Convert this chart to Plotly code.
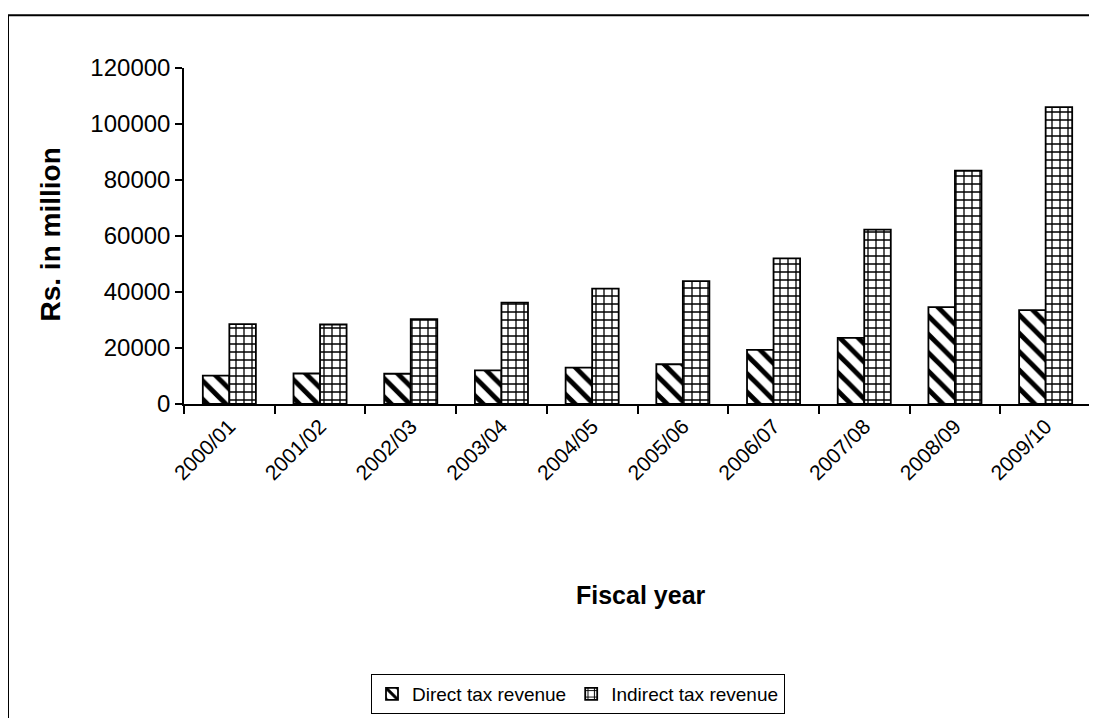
import plotly.graph_objects as go

years = ["2000/01", "2001/02", "2002/03", "2003/04", "2004/05",
         "2005/06", "2006/07", "2007/08", "2008/09", "2009/10"]
direct_tax = [10100, 10900, 10800, 12000, 13000, 14200, 19300, 23600, 34600, 33500]
indirect_tax = [28500, 28400, 30300, 36200, 41200, 43900, 52000, 62300, 83300, 106000]
y_ticks = [0, 20000, 40000, 60000, 80000, 100000, 120000]

FONT = "Liberation Sans, Arial, sans-serif"

fig = go.Figure()
fig.add_trace(go.Bar(
    x=years, y=direct_tax, name="Direct tax revenue",
    marker=dict(color="white", line=dict(color="black", width=1.8),
                pattern=dict(shape="\\", fgcolor="black", bgcolor="white",
                             fgopacity=1, size=13, solidity=0.38)),
))
fig.add_trace(go.Bar(
    x=years, y=indirect_tax, name="Indirect tax revenue",
    marker=dict(color="white", line=dict(color="black", width=1.8),
                pattern=dict(shape="+", fgcolor="black", bgcolor="white",
                             fgopacity=1, size=8, solidity=0.3)),
))

OFF = 8  # page body margin
W, H = 1097 - OFF, 718 - OFF
# plot area in page pixels: x 184..1091, y 68..405
L, R = 184 - OFF, 1097 - 1091
T, B = 68 - OFF, 718 - 405
pw, ph = W - L - R, H - T - B

def px(x):
    return (x - 184) / pw

def py(y):
    return (405 - y) / ph

fig.update_layout(
    width=W, height=H,
    margin=dict(l=L, r=R, t=T, b=B),
    paper_bgcolor="white", plot_bgcolor="white",
    barmode="group", bargap=0.415, bargroupgap=0,
    font=dict(family=FONT, color="black", size=20),
    xaxis=dict(
        type="category", showline=True, linecolor="black", linewidth=1.5,
        ticks="outside", ticklen=8, tickcolor="black", tickwidth=1.5,
        tickson="boundaries", tickangle=-45, showgrid=False,
        tickfont=dict(family=FONT, size=21, color="black"),
    ),
    yaxis=dict(
        range=[0, 120000], tickvals=y_ticks,
        ticktext=[str(v) for v in y_ticks],
        showline=True, linecolor="black", linewidth=1.5,
        ticks="outside", ticklen=7, tickcolor="black", tickwidth=1.5,
        showgrid=False, zeroline=False,
        tickfont=dict(family=FONT, size=24, color="black"),
    ),
    legend=dict(
        orientation="h", x=px(578), xanchor="center", y=py(674), yanchor="top",
        bordercolor="black", borderwidth=1, bgcolor="white",
        font=dict(family=FONT, size=19, color="black"),
        itemwidth=30, tracegroupgap=0,
    ),
    showlegend=True,
    annotations=[
        dict(text="<b>Fiscal year</b>", xref="paper", yref="paper",
             x=px(641), y=py(597), xanchor="center", yanchor="middle",
             showarrow=False, font=dict(family=FONT, size=25, color="black")),
        dict(text="<b>Rs. in million</b>", xref="paper", yref="paper",
             x=px(51), y=py(235), xanchor="center", yanchor="middle",
             textangle=-90, showarrow=False,
             font=dict(family=FONT, size=28, color="black")),
    ],
    shapes=[
        dict(type="rect", xref="paper", yref="paper",
             x0=px(8), y0=py(15), x1=px(1130), y1=py(760),
             line=dict(color="black", width=2), fillcolor="rgba(0,0,0,0)",
             layer="below"),
    ],
)

fig.write_html("out.html")
